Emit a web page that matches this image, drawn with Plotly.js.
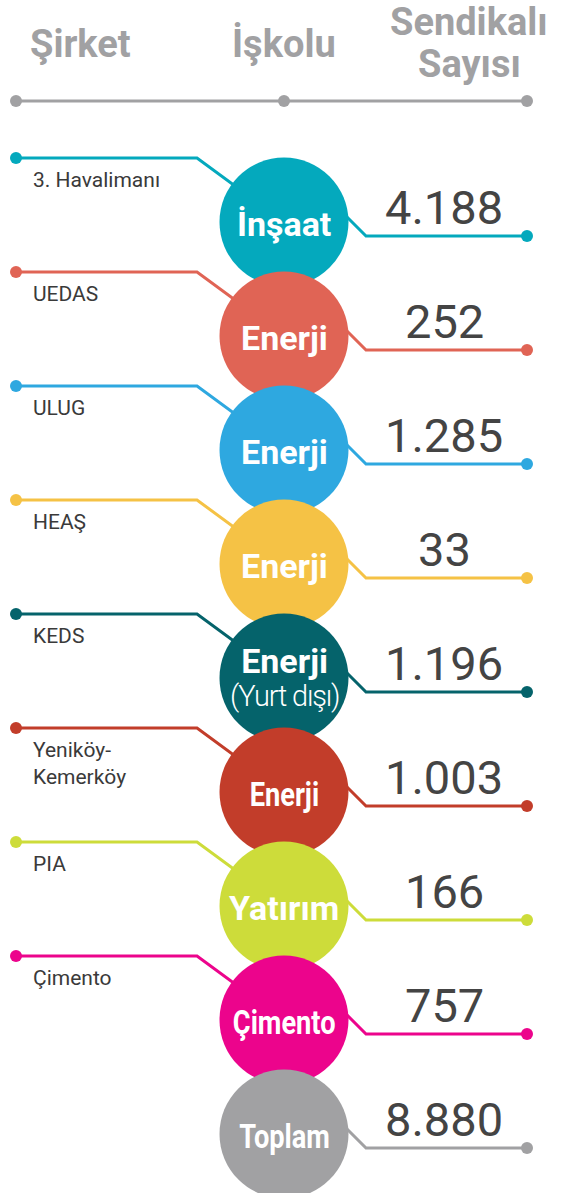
<!DOCTYPE html>
<html><head><meta charset="utf-8">
<script src="https://cdn.plot.ly/plotly-3.0.1.min.js"></script>
<style>html,body{margin:0;padding:0;background:#fff}</style>
</head><body><div id="chart" style="width:569px;height:1193px"></div>
<script>
// ---- data ----
const headers = ['Şirket', 'İşkolu', 'Sendikalı Sayısı'];
const companies = ['3. Havalimanı', 'UEDAS', 'ULUG', 'HEAŞ', 'KEDS', 'Yeniköy-Kemerköy', 'PIA', 'Çimento'];
const sectors = ['İnşaat', 'Enerji', 'Enerji', 'Enerji', 'Enerji (Yurt dışı)', 'Enerji', 'Yatırım', 'Çimento'];
const counts = [4188, 252, 1285, 33, 1196, 1003, 166, 757];
const totalLabel = 'Toplam';

// ---- styles ----
const rowColors = ['#04a9bd', '#e06455', '#2ea8e0', '#f5c245', '#05636b', '#c23d2a', '#cddc3a', '#ec048c'];
const totalColor = '#a1a1a3';
const narrowLabel = [false, false, false, false, false, true, false, true, true];
const headerColor = '#a1a1a3';
const textColor = '#444444';

// ---- layout geometry (pixels) ----
const W = 569, H = 1193;
const FIRST = 222, STEP = 114;        // first row centre and row pitch
const CX = 284, DIAM = 129;
const LX = 16, BENDX = 197, RX = 527;
const HEADER_Y = 101;
const px = v => v / STEP;             // pixel offset -> row units

const fmt = n => String(n).replace(/\B(?=(\d{3})+(?!\d))/g, '.');
const total = counts.reduce((a, b) => a + b, 0);

const allColors = rowColors.concat([totalColor]);
const allSectors = sectors.concat([totalLabel]);
const allCounts = counts.concat([total]);

const traces = [];
const annotations = [];
const squeeze = {};   // annotation index -> horizontal scale
const FONT = 'Roboto, "Open Sans", sans-serif';

// header rule
const hy = px(HEADER_Y - FIRST);
traces.push({x: [LX, RX], y: [hy, hy], mode: 'lines', line: {color: headerColor, width: 3}, hoverinfo: 'skip'});
traces.push({x: [LX, CX, RX], y: [hy, hy, hy], mode: 'markers', marker: {color: headerColor, size: 12}, hoverinfo: 'skip'});

// header texts
const headerX = [80, CX, 469];
headers.forEach((h, k) => {
  const parts = h.split(' ');
  const ys = parts.length === 1 ? [44] : [22, 64];
  parts.forEach((p, j) => {
    annotations.push({x: headerX[k], y: px(ys[j] - FIRST), text: '<b>' + p + '</b>', showarrow: false,
      xanchor: 'center', yanchor: 'middle', font: {family: FONT, size: 38, color: headerColor}});
  });
});

// connectors
allCounts.forEach((v, i) => {
  const col = allColors[i];
  const xs = [], ys = [], dx = [], dy = [];
  if (i < companies.length) {
    xs.push(LX, BENDX, CX, null);
    ys.push(i - px(64), i - px(64), i, null);
    dx.push(LX); dy.push(i - px(64));
  }
  xs.push(330, 366, RX);
  ys.push(i - px(22), i + px(14), i + px(14));
  dx.push(RX); dy.push(i + px(14));
  traces.push({x: xs, y: ys, mode: 'lines', line: {color: col, width: 3}, hoverinfo: 'skip'});
  traces.push({x: dx, y: dy, mode: 'markers', marker: {color: col, size: 12}, hoverinfo: 'skip'});
});

// circles
allCounts.forEach((v, i) => {
  traces.push({x: [CX], y: [i], mode: 'markers', marker: {color: allColors[i], size: DIAM, line: {width: 0}}, hoverinfo: 'skip'});
});

// company labels
companies.forEach((c, i) => {
  annotations.push({x: 31, y: i, yshift: 56, text: c.replace('-', '-<br>'), showarrow: false,
    xanchor: 'left', yanchor: 'top', align: 'left',
    font: {family: FONT, size: 21, color: '#3a3a3a'}});
});

// sector labels in circles
allSectors.forEach((s, i) => {
  const m = s.match(/^(.*?) (\(.*\))$/);
  if (m) {
    const txt = '<span style="font-size:34px;font-weight:bold">' + m[1] + '</span><br>' +
                '<span style="font-size:29px;letter-spacing:-1.2px">' + m[2] + '</span>';
    annotations.push({x: CX, y: i, yshift: 1, text: txt, showarrow: false, xanchor: 'center', yanchor: 'middle',
      font: {family: FONT, size: 25, weight: 300, color: '#ffffff'}});
  } else {
    if (narrowLabel[i]) squeeze[annotations.length] = 0.8;
    annotations.push({x: CX, y: i, yshift: -2, text: '<b>' + s + '</b>', showarrow: false, xanchor: 'center', yanchor: 'middle',
      font: {family: FONT, size: 34, color: '#ffffff'}});
  }
});

// numbers
allCounts.forEach((v, i) => {
  annotations.push({x: 444, y: i, yshift: 15, text: fmt(v), showarrow: false, xanchor: 'center', yanchor: 'middle',
    font: {family: FONT, size: 47, color: textColor}});
});

const layout = {
  width: W, height: H,
  margin: {l: 0, r: 0, t: 0, b: 0, pad: 0},
  paper_bgcolor: '#ffffff', plot_bgcolor: '#ffffff',
  showlegend: false,
  xaxis: {range: [0, W], visible: false, fixedrange: true},
  yaxis: {range: [px(H - FIRST), px(-FIRST)], visible: false, fixedrange: true},
  annotations: annotations,
  hovermode: false
};

Plotly.newPlot('chart', traces, layout, {displayModeBar: false, staticPlot: true}).then(gd => {
  // condensed lettering for some circle labels
  Object.keys(squeeze).forEach(k => {
    const el = gd.querySelector('.annotation[data-index="' + k + '"] text.annotation-text');
    if (el) {
      el.style.transformBox = 'fill-box';
      el.style.transformOrigin = 'center';
      el.style.transform = 'scaleX(' + squeeze[k] + ')';
    }
  });
});
</script>
</body></html>
